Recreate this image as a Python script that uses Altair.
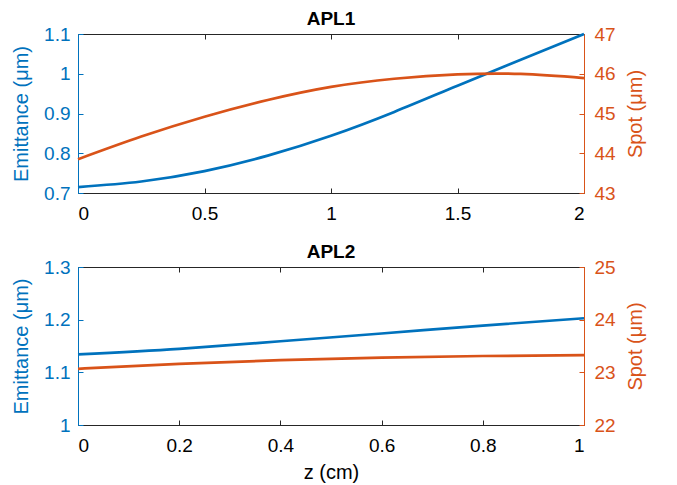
import altair as alt
import pandas as pd

BLUE = "#0072BD"
ORANGE = "#D95319"
DARK = "#262626"
FONT = "Liberation Sans"

# ---- data: panel APL1 ----
z1 = [0, 0.25, 0.5, 0.75, 1.0, 1.25, 1.5, 1.75, 2.0]
emit1 = [0.715, 0.729, 0.755, 0.794, 0.844, 0.904, 0.970, 1.035, 1.100]
spot1 = [43.85, 44.42, 44.92, 45.34, 45.67, 45.875, 45.985, 45.995, 45.89]
xticks1 = [0, 0.5, 1, 1.5, 2]
yticksL1 = [0.7, 0.8, 0.9, 1.0, 1.1]
yticksR1 = [43, 44, 45, 46, 47]

# ---- data: panel APL2 ----
z2 = [0, 0.2, 0.4, 0.6, 0.8, 1.0]
emit2 = [1.134, 1.1446, 1.159, 1.1737, 1.1888, 1.2027]
spot2 = [23.067, 23.16, 23.23, 23.28, 23.31, 23.325]
xticks2 = [0, 0.2, 0.4, 0.6, 0.8, 1]
yticksL2 = [1.0, 1.1, 1.2, 1.3]
yticksR2 = [22, 23, 24, 25]

W = 506
TICK = 5
LFS = 19


def panel(z, emit, spot, xticks, yL, yR, title, xtitle, height):
    df = pd.DataFrame({"z": z, "emit": emit, "spot": spot})
    xs = alt.Scale(domain=[xticks[0], xticks[-1]], nice=False, zero=False)
    ysL = alt.Scale(domain=[yL[0], yL[-1]], nice=False, zero=False)
    ysR = alt.Scale(domain=[yR[0], yR[-1]], nice=False, zero=False)
    base = alt.Chart(df)

    xkw = dict(title=xtitle) if xtitle else dict(title=None)
    # main lines with labelled axes
    l1 = base.mark_line(color=BLUE, strokeWidth=2.7, interpolate="natural").encode(
        x=alt.X("z:Q", scale=xs, axis=alt.Axis(
            orient="bottom", values=xticks, format="~g", ticks=False, grid=False,
            domainColor=DARK, labelColor="black", labelFontSize=LFS, labelPadding=11,
            titleFontSize=20, titleFontWeight="normal", titleColor="black", titlePadding=7,
            labelFont=FONT, titleFont=FONT, **xkw)),
        y=alt.Y("emit:Q", scale=ysL, axis=alt.Axis(
            orient="left", values=yL, format="~g", ticks=False, grid=False,
            domainColor=BLUE, labelColor=BLUE, labelFontSize=LFS, labelPadding=8,
            title="Emittance (μm)", titleColor=BLUE, titleFontSize=20,
            titleFontWeight="normal", titlePadding=12, labelFont=FONT, titleFont=FONT)),
    )
    l2 = base.mark_line(color=ORANGE, strokeWidth=2.7, interpolate="natural").encode(
        x=alt.X("z:Q", scale=xs, axis=alt.Axis(
            orient="top", values=xticks, labels=False, ticks=False, grid=False,
            domainColor=DARK, title=None)),
        y=alt.Y("spot:Q", scale=ysR, axis=alt.Axis(
            orient="right", values=yR, format="~g", ticks=False, grid=False,
            domainColor=ORANGE, labelColor=ORANGE, labelFontSize=LFS, labelPadding=10,
            title="Spot (μm)", titleColor=ORANGE, titleFontSize=20, titleAngle=270,
            titleBaseline="top",
            titleFontWeight="normal", titlePadding=10, labelFont=FONT, titleFont=FONT)),
    )
    # invisible layers carrying inward tick marks
    l3 = base.mark_line(opacity=0).encode(
        x=alt.X("z:Q", scale=xs, axis=alt.Axis(
            orient="bottom", values=xticks, labels=False, domain=False, grid=False,
            ticks=True, tickSize=TICK, tickColor=DARK, offset=-TICK, title=None)),
        y=alt.Y("emit:Q", scale=ysL, axis=alt.Axis(
            orient="left", values=yL, labels=False, domain=False, grid=False,
            ticks=True, tickSize=TICK, tickColor=BLUE, offset=-TICK, title=None)),
    )
    l4 = base.mark_line(opacity=0).encode(
        x=alt.X("z:Q", scale=xs, axis=alt.Axis(
            orient="top", values=xticks, labels=False, domain=False, grid=False,
            ticks=True, tickSize=TICK, tickColor=DARK, offset=-TICK, title=None)),
        y=alt.Y("spot:Q", scale=ysR, axis=alt.Axis(
            orient="right", values=yR, labels=False, domain=False, grid=False,
            ticks=True, tickSize=TICK, tickColor=ORANGE, offset=-TICK, title=None)),
    )
    return alt.layer(l1, l2, l3, l4).resolve_scale(y="independent").resolve_axis(
        x="independent", y="independent"
    ).properties(
        width=W, height=height,
        title=alt.TitleParams(title, fontSize=19, fontWeight="bold", font=FONT,
                              color="black", offset=-4),
    )


top = panel(z1, emit1, spot1, xticks1, yticksL1, yticksR1, "APL1", None, 159)
bottom = panel(z2, emit2, spot2, xticks2, yticksL2, yticksR2, "APL2", "z (cm)", 158)

chart = alt.vconcat(top, bottom, spacing=74, bounds="flush").properties(
    padding={"left": 11, "top": 10, "right": 5, "bottom": 5}
).configure(font=FONT).configure_view(stroke=None)

chart.save("out.html", embed_options={"renderer": "svg", "actions": False})
